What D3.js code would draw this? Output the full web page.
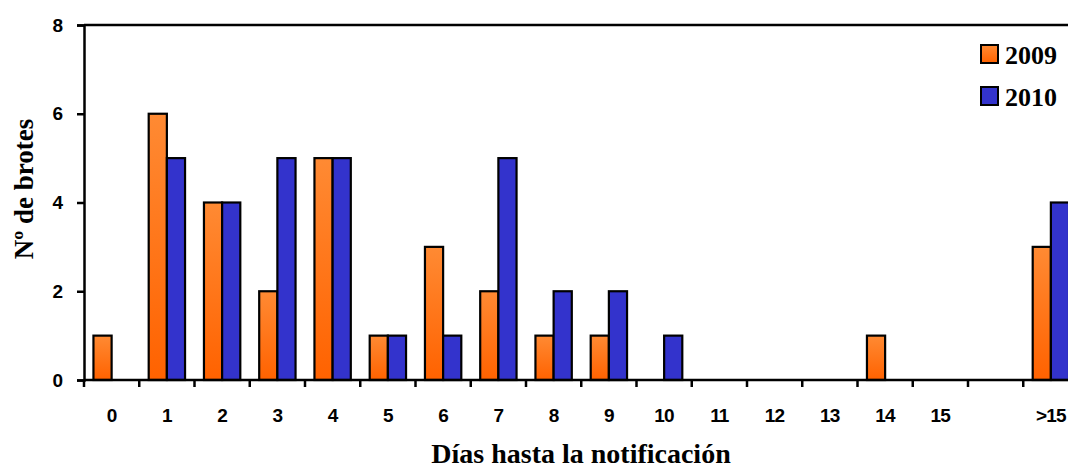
<!DOCTYPE html>
<html>
<head>
<meta charset="utf-8">
<script src="https://cdn.jsdelivr.net/npm/d3@7"></script>
<style>
  html, body { margin: 0; padding: 0; background: #fff; }
  svg { display: block; }
</style>
</head>
<body>
<svg id="chart" width="1068" height="469"></svg>
<script>
const categories = ["0","1","2","3","4","5","6","7","8","9","10","11","12","13","14","15","",">15"];
const seriesNames = ["2009","2010"];
const values2009 = [1,6,4,2,5,1,3,2,1,1,0,0,0,0,1,0,0,3];
const values2010 = [0,5,4,5,5,1,1,5,2,2,1,0,0,0,0,0,0,4];
const yTicks = [0,2,4,6,8];
const xTitle = "Días hasta la notificación";
const yTitle = "Nº de brotes";

(function () {
const svg = d3.select("#chart");
const pLeft = 84, pTop = 25, pBottom = 380, step = 55.25;
const pRight = pLeft + categories.length * step;

const defs = svg.append("defs");
const grad = defs.append("linearGradient").attr("id","orangeGrad")
  .attr("x1","0").attr("y1","0").attr("x2","0").attr("y2","1");
grad.append("stop").attr("offset","0%").attr("stop-color","#ff8a33");
grad.append("stop").attr("offset","100%").attr("stop-color","#ff6200");

const colors = {"2009":"url(#orangeGrad)","2010":"#3333cc"};

const x = d3.scaleBand().domain(d3.range(categories.length)).range([pLeft, pRight]).padding(0);
const x1 = d3.scaleBand().domain(seriesNames).range([0, x.bandwidth()]).paddingInner(0).paddingOuter(0.52);
const y = d3.scaleLinear().domain([0, 8]).range([pBottom, pTop]);

const data = [];
categories.forEach((c, i) => {
  data.push({i, s: "2009", v: values2009[i]});
  data.push({i, s: "2010", v: values2010[i]});
});

// frame top/right
svg.append("path")
  .attr("d", `M${pLeft},${pTop}H${pRight}V${pBottom}`)
  .attr("fill","none").attr("stroke","#000").attr("stroke-width",2.5);

// bars
svg.append("g").selectAll("rect")
  .data(data.filter(d => d.v > 0))
  .join("rect")
  .attr("x", d => x(d.i) + x1(d.s))
  .attr("y", d => y(d.v))
  .attr("width", x1.bandwidth())
  .attr("height", d => y(0) - y(d.v))
  .attr("fill", d => colors[d.s])
  .attr("stroke", "#000")
  .attr("stroke-width", 2.2);

// y axis
const yAxis = svg.append("g").attr("transform", `translate(${pLeft},0)`)
  .call(d3.axisLeft(y).tickValues(yTicks).tickFormat(d3.format("d")).tickSize(7).tickPadding(14));
yAxis.select(".domain").attr("stroke-width", 2.5);
yAxis.selectAll(".tick line").attr("stroke-width", 2.5);
yAxis.selectAll("text").attr("font-family","'Liberation Sans', Arial, sans-serif")
  .attr("font-weight","bold").attr("font-size","19px").attr("fill","#000");

// x axis: ticks at band boundaries
const xAxis = svg.append("g").attr("transform", `translate(0,${pBottom})`);
xAxis.append("line").attr("x1", pLeft).attr("x2", pRight).attr("stroke","#000").attr("stroke-width",2.5);
xAxis.selectAll("line.tk").data(d3.range(categories.length + 1)).join("line")
  .attr("class","tk")
  .attr("x1", i => pLeft + i * x.step()).attr("x2", i => pLeft + i * x.step())
  .attr("y1", 0).attr("y2", 7).attr("stroke","#000").attr("stroke-width",2.5);
xAxis.selectAll("text").data(categories.map((c, i) => ({c, i}))).join("text")
  .attr("x", d => x(d.i) + x.bandwidth() / 2)
  .attr("y", 42)
  .attr("text-anchor","middle")
  .attr("font-family","'Liberation Sans', Arial, sans-serif")
  .attr("font-weight","bold").attr("font-size","19px").attr("letter-spacing","-0.8px")
  .text(d => d.c);

// axis titles
svg.append("text").attr("x", 581).attr("y", 463).attr("text-anchor","middle")
  .attr("font-family","'Liberation Serif', 'Times New Roman', serif")
  .attr("font-weight","bold").attr("font-size","28px").text(xTitle);
svg.append("text").attr("transform","translate(33,189) rotate(-90)").attr("text-anchor","middle")
  .attr("font-family","'Liberation Serif', 'Times New Roman', serif")
  .attr("font-weight","bold").attr("font-size","27px").text(yTitle);

// legend
const legend = svg.append("g");
seriesNames.forEach((s, k) => {
  const ly = 45 + k * 42;
  legend.append("rect").attr("x", 981).attr("y", ly).attr("width", 17).attr("height", 18)
    .attr("fill", colors[s]).attr("stroke","#000").attr("stroke-width",2);
  legend.append("text").attr("x", 1005).attr("y", ly + 18.5)
    .attr("font-family","'Liberation Serif', 'Times New Roman', serif")
    .attr("font-weight","bold").attr("font-size","26px").text(s);
});
})();
</script>
</body>
</html>
